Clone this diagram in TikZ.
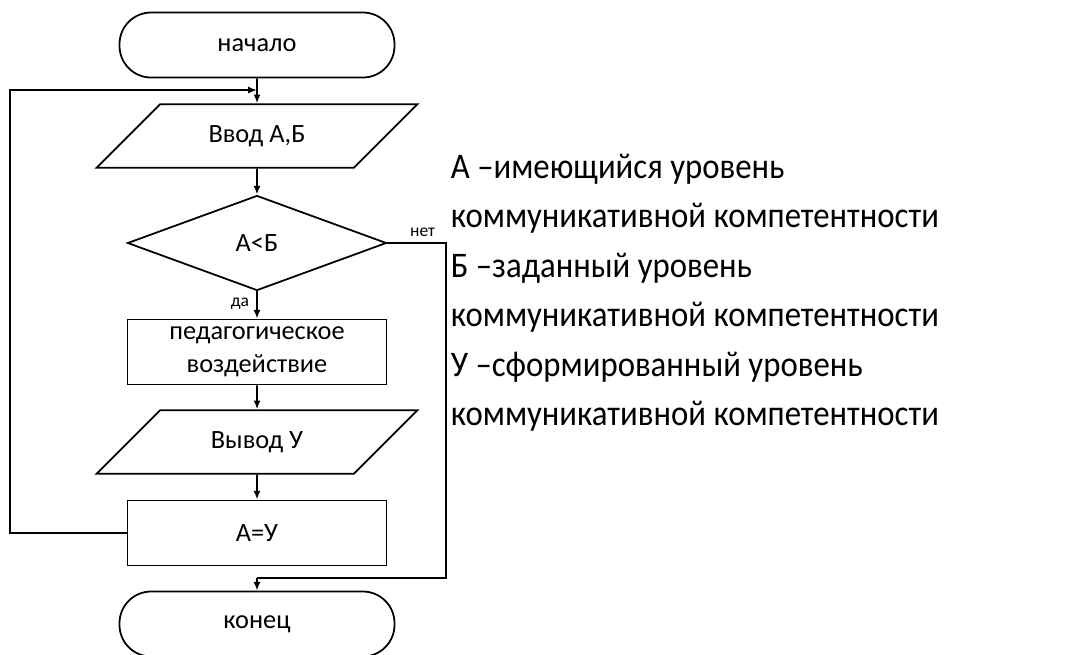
\documentclass[tikz,border=0pt]{standalone}
\usepackage{fontspec}
\setmainfont{Carlito}
\newfontfamily\legendfont[FakeStretch=0.91]{Carlito}
\usetikzlibrary{shapes.geometric,arrows.meta,positioning}

\def\px{0.02cm}
\tikzset{
  block/.style={draw, line width=1pt, align=center, inner sep=0pt,
    font=\fontsize{15}{19}\selectfont},
  term/.style={block, rounded corners=18pt, minimum width=275*\px, minimum height=65*\px},
  io/.style={block, trapezium, trapezium left angle=45, trapezium right angle=135,
    trapezium stretches body=true, text height=10pt, text depth=3pt,
    inner ysep=11.6pt, minimum width=321*\px},
  cond/.style={block, diamond, aspect=2.7, minimum width=259*\px, minimum height=95*\px},
  proc/.style={block, rectangle, minimum width=259*\px, minimum height=65*\px},
  tag/.style={font=\fontsize{10}{12}\selectfont, inner sep=1pt},
  legend/.style={anchor=base west, inner sep=0pt, font=\legendfont\fontsize{20.5}{24}\selectfont}
}

\begin{document}
\begin{tikzpicture}[x=\px, y=-\px, line width=1pt, >={Latex[length=5pt,width=4pt]}]
  \useasboundingbox (0,0) rectangle (1069,654);
  % blocks
  \node[term] (start) at (257,45) {начало};
  \node[io] (in) at (257,136) {Ввод А,Б};
  \node[cond] (cmp) at (257,243) {А<Б};
  \node[proc] (act) at (257,352) {педагогическое\\воздействие};
  \node[io] (out) at (257,442) {Вывод У};
  \node[proc] (set) at (257,533) {А=У};
  \node[term] (stop) at (257,624) {конец};
  \coordinate (loop) at (257,90);
  \coordinate (exit) at (257,578);
  % connectors
  \draw[->] (start) -- (in);
  \draw[->] (in) -- (cmp);
  \draw[->] (cmp) -- node[tag, left, pos=0.45, xshift=-3pt] {да} (act);
  \draw[->] (act) -- (out);
  \draw[->] (out) -- (set);
  \draw[->] (set.west) -- (10,533) |- (loop);
  \draw (cmp.east) -- node[tag, above, pos=0.6, yshift=2pt] {нет} (446,243) |- (exit);
  \draw[->] (exit) -- (stop);
  % legend
  \node[legend] (l1) at (450,178) {А –имеющийся уровень};
  \node[legend] (l2) at (450,227) {коммуникативной компетентности};
  \node[legend] (l3) at (450,277) {Б –заданный уровень};
  \node[legend] (l4) at (450,326) {коммуникативной компетентности};
  \node[legend] (l5) at (450,376) {У –сформированный уровень};
  \node[legend] (l6) at (450,425) {коммуникативной компетентности};
\end{tikzpicture}
\end{document}
